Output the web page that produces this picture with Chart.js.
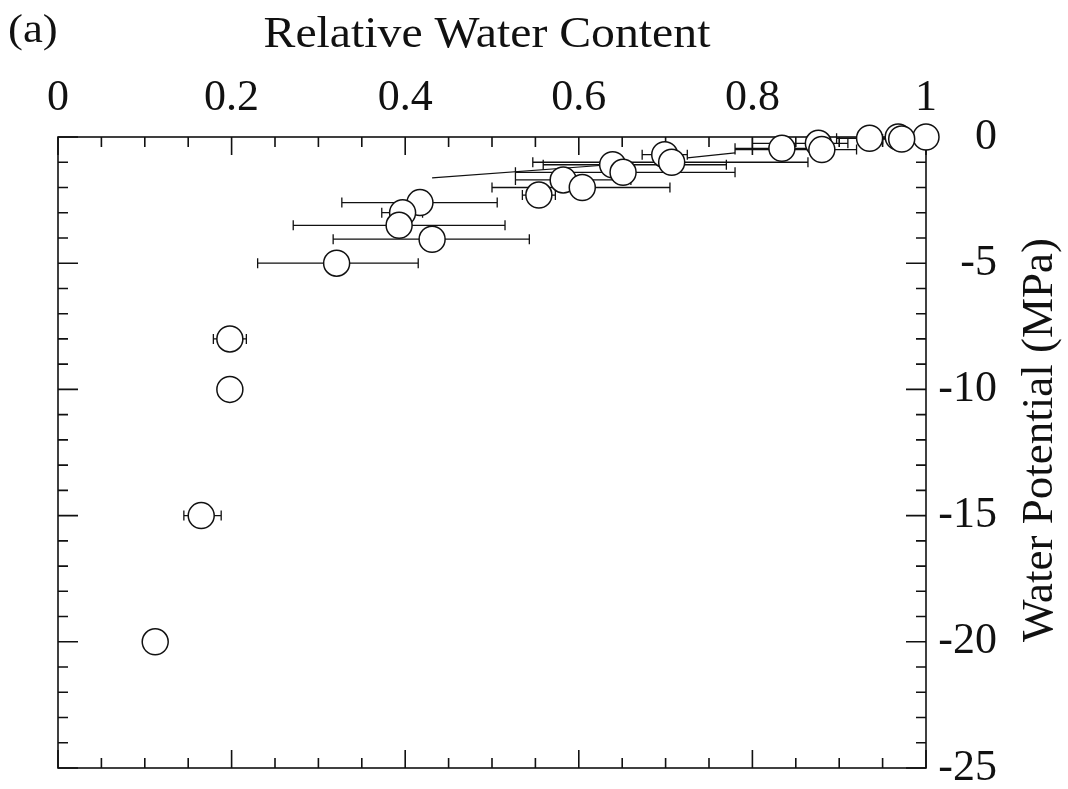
<!DOCTYPE html>
<html>
<head>
<meta charset="utf-8">
<script src="https://cdn.jsdelivr.net/npm/chart.js@4/dist/chart.umd.min.js"></script>
<style>
  html, body { margin: 0; padding: 0; background: #fff; }
  canvas { display: block; }
</style>
</head>
<body>
<canvas id="chart" width="1068" height="789"></canvas>
<script>
// Relative water content (x) and water potential in MPa (y), with RWC ranges
const rwc     = [0.968, 1.000, 0.935, 0.972, 0.876, 0.834, 0.880, 0.699, 0.707, 0.639, 0.651, 0.582,
                 0.604, 0.554, 0.417, 0.397, 0.393, 0.431, 0.321, 0.198, 0.198, 0.165, 0.112];
const psi     = [0.0, 0.0, -0.05, -0.08, -0.25, -0.45, -0.5, -0.7, -1.0, -1.1, -1.4, -1.7,
                 -2.0, -2.3, -2.6, -3.0, -3.5, -4.05, -5.0, -8.0, -10.0, -15.0, -20.0];
const rwcLow  = [null, null, 0.897, 0.950, 0.800, 0.780, 0.780, 0.673, 0.547, 0.559, 0.527, 0.527,
                 0.500, 0.535, 0.327, 0.373, 0.271, 0.317, 0.230, 0.179, null, 0.145, null];
const rwcHigh = [null, null, 0.970, 0.990, 0.910, 0.880, 0.920, 0.725, 0.864, 0.770, 0.780, 0.660,
                 0.705, 0.573, 0.506, 0.420, 0.515, 0.543, 0.415, 0.217, null, 0.188, null];

// Two thin slanted segments drawn among the upper points
const segX = [0.431, 0.632, null, 0.725, 0.780];
const segY = [-1.62, -1.11, null, -0.83, -0.63];

// Axis ranges and labelled tick steps
const xMin = 0, xMax = 1, xStep = 0.05, xLabelStep = 0.2;
const yMin = -25, yMax = 0, yStep = 1, yLabelStep = 5;

const titleX = 'Relative Water Content';
const titleY = 'Water Potential (MPa)';
const panelTag = '(a)';

const INK = '#111';
const FONT = "'Liberation Serif', 'Times New Roman', serif";

const onStep = (v, step) => Math.abs(v / step - Math.round(v / step)) < 1e-6;

// Frame, inward ticks on all four sides, and horizontal range bars
const framePlugin = {
  id: 'frame',
  beforeDatasetsDraw(chart) {
    const { ctx, chartArea: a, scales: { x, y } } = chart;
    ctx.save();
    ctx.strokeStyle = INK;
    ctx.lineWidth = 1.6;
    ctx.strokeRect(a.left, a.top, a.right - a.left, a.bottom - a.top);
    ctx.beginPath();
    x.ticks.forEach(t => {
      const px = x.getPixelForValue(t.value);
      const len = onStep(t.value, xLabelStep) ? 18 : 10;
      ctx.moveTo(px, a.top); ctx.lineTo(px, a.top + len);
      ctx.moveTo(px, a.bottom); ctx.lineTo(px, a.bottom - len);
    });
    y.ticks.forEach(t => {
      const py = y.getPixelForValue(t.value);
      const len = onStep(t.value, yLabelStep) ? 20 : 10;
      ctx.moveTo(a.left, py); ctx.lineTo(a.left + len, py);
      ctx.moveTo(a.right, py); ctx.lineTo(a.right - len, py);
    });
    ctx.stroke();

    // range bars with end caps
    ctx.lineWidth = 1.3;
    ctx.beginPath();
    rwc.forEach((v, i) => {
      if (rwcLow[i] == null || rwcHigh[i] == null) return;
      const py = y.getPixelForValue(psi[i]);
      const x1 = x.getPixelForValue(rwcLow[i]);
      const x2 = x.getPixelForValue(rwcHigh[i]);
      ctx.moveTo(x1, py); ctx.lineTo(x2, py);
      ctx.moveTo(x1, py - 5); ctx.lineTo(x1, py + 5);
      ctx.moveTo(x2, py - 5); ctx.lineTo(x2, py + 5);
    });
    ctx.stroke();
    ctx.restore();
  },
  afterDraw(chart) {
    const { ctx } = chart;
    ctx.save();
    ctx.fillStyle = INK;
    ctx.textBaseline = 'alphabetic';

    // panel tag
    ctx.font = `40px ${FONT}`;
    ctx.textAlign = 'left';
    ctx.save();
    ctx.translate(8, 42);
    ctx.scale(1.12, 1);
    ctx.fillText(panelTag, 0, 0);
    ctx.restore();

    // axis title above the top scale
    ctx.font = `44px ${FONT}`;
    ctx.textAlign = 'center';
    ctx.save();
    ctx.translate(487, 47);
    ctx.scale(1.085, 1);
    ctx.fillText(titleX, 0, 0);
    ctx.restore();

    // axis title beside the right scale, reading upwards
    ctx.font = `45px ${FONT}`;
    ctx.translate(1052, 440);
    ctx.rotate(-Math.PI / 2);
    ctx.fillText(titleY, 0, 0);
    ctx.restore();
  }
};

const points = rwc.map((v, i) => ({ x: v, y: psi[i] }));
const segments = segX.map((v, i) => ({ x: v ?? NaN, y: segY[i] ?? NaN }));

new Chart(document.getElementById('chart'), {
  type: 'scatter',
  data: {
    datasets: [
      {
        label: 'RWC',
        data: points,
        pointStyle: 'circle',
        pointRadius: 13,
        pointHoverRadius: 13,
        pointBackgroundColor: '#fff',
        pointBorderColor: INK,
        pointBorderWidth: 1.5,
        clip: false
      },
      {
        label: 'segments',
        data: segments,
        showLine: true,
        spanGaps: false,
        borderColor: INK,
        borderWidth: 1.2,
        pointRadius: 0,
        clip: false
      }
    ]
  },
  options: {
    responsive: false,
    animation: false,
    events: [],
    layout: { padding: { left: 58, right: 71, top: 0, bottom: 21 } },
    plugins: { legend: { display: false }, tooltip: { enabled: false }, title: { display: false } },
    scales: {
      x: {
        type: 'linear',
        position: 'top',
        min: xMin, max: xMax,
        grid: { display: false, drawTicks: false },
        border: { display: false },
        ticks: {
          stepSize: xStep,
          maxTicksLimit: 1000,
          autoSkip: false,
          maxRotation: 0, minRotation: 0,
          padding: 12,
          color: INK,
          font: { family: FONT, size: 44 },
          callback: v => onStep(v, xLabelStep) ? String(Number(v.toFixed(2))) : ''
        },
        afterFit: s => { s.height = 137; s.paddingLeft = 0; s.paddingRight = 0; }
      },
      y: {
        type: 'linear',
        position: 'right',
        min: yMin, max: yMax,
        grid: { display: false, drawTicks: false },
        border: { display: false },
        ticks: {
          stepSize: yStep,
          maxTicksLimit: 1000,
          autoSkip: false,
          crossAlign: 'far',
          padding: 12,
          color: INK,
          font: { family: FONT, size: 44 },
          callback: v => onStep(v, yLabelStep) ? String(Math.round(v)) : ''
        },
        afterFit: s => { s.width = 71; s.paddingTop = 0; s.paddingBottom = 0; }
      }
    }
  },
  plugins: [framePlugin]
});
</script>
</body>
</html>
